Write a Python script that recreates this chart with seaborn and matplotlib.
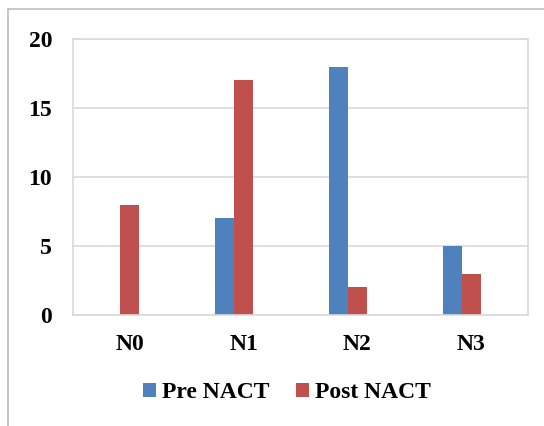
import matplotlib
matplotlib.use("Agg")
import matplotlib.pyplot as plt
import seaborn as sns
import pandas as pd
from matplotlib.lines import Line2D
from matplotlib.patches import Patch

categories = ["N0", "N1", "N2", "N3"]
pre_nact = [0, 7, 18, 5]
post_nact = [8, 17, 2, 3]
series_names = ["Pre NACT", "Post NACT"]
yticks = [0, 5, 10, 15, 20]

colors = {"Pre NACT": "#4F81BD", "Post NACT": "#C0504D", "_blank": "#FFFFFF"}

df = pd.DataFrame({
    "cat": categories * 2,
    "value": pre_nact + post_nact,
    "series": [series_names[0]] * len(categories) + [series_names[1]] * len(categories),
})

sns.set_theme(style="white")
plt.rcParams["font.family"] = ["Liberation Serif", "DejaVu Serif"]
plt.rcParams["font.weight"] = "bold"
plt.rcParams["text.color"] = "black"
plt.rcParams["xtick.color"] = "black"
plt.rcParams["ytick.color"] = "black"

fig = plt.figure(figsize=(5.44, 4.26), dpi=100)
ax = fig.add_axes([73 / 544, 1 - 315 / 426, (528 - 73) / 544, (315 - 39) / 426])

sns.barplot(data=df, x="cat", y="value", hue="series",
            hue_order=["Pre NACT", "Post NACT", "_blank"],
            order=categories, palette=colors, width=0.5, gap=0, saturation=1,
            dodge=True, ax=ax, legend=False, edgecolor="none", linewidth=0)

ax.set_ylim(0, 20)
ax.set_yticks(yticks)
ax.set_yticklabels([str(t) for t in yticks], fontsize=17, fontweight="bold", color="black")
ax.set_xticks(range(len(categories)))
ax.set_xticklabels(categories, fontsize=17, fontweight="bold", color="black")
ax.set_xlim(-0.5, len(categories) - 0.5)
ax.tick_params(axis="y", length=0, pad=15)
ax.tick_params(axis="x", length=0, pad=14)
ax.set_xlabel("")
ax.set_ylabel("")
ax.yaxis.grid(True, color="#D9D9D9", linewidth=1.2)
ax.set_axisbelow(True)
for s in ax.spines.values():
    s.set_color("#D9D9D9")
    s.set_linewidth(1.2)

handles = [Patch(facecolor=colors[n], edgecolor="none") for n in series_names]
leg = fig.legend(handles, series_names, loc="center", bbox_to_anchor=(287 / 544, 1 - 393 / 426),
                 ncol=2, frameon=False, prop={"family": ["Liberation Serif"], "weight": "bold", "size": 17},
                 handlelength=0.55, handleheight=0.55, handletextpad=0.25, columnspacing=1.1)
for t in leg.get_texts():
    t.set_color("black")

fig.add_artist(Line2D([8 / 544, 8 / 544], [0, 1 - 9 / 426], transform=fig.transFigure,
                      color="#BFBFBF", linewidth=1.2))
fig.add_artist(Line2D([8 / 544, 1], [1 - 9 / 426, 1 - 9 / 426], transform=fig.transFigure,
                      color="#BFBFBF", linewidth=1.2))

fig.savefig("out.png", dpi=100)
